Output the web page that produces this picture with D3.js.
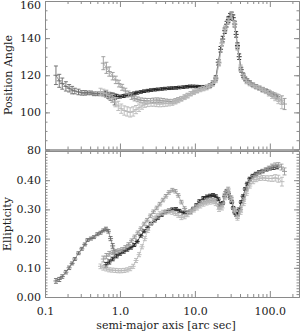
<!DOCTYPE html>
<html><head><meta charset="utf-8">
<script src="https://cdn.jsdelivr.net/npm/d3@7"></script>
<style>body{margin:0;background:#fff}svg{display:block}</style>
</head><body>
<script>
// ---- data: inner series ----
const s1Radius = [0.14,0.155,0.17,0.19,0.21,0.23,0.25,0.28,0.31,0.34,0.37,0.41,0.45,0.5,0.55,0.6,0.65,0.7,0.75,0.8,0.85];
const s1PA     = [120,117,115.5,114,113,112,111.5,111,110.5,110.5,110.5,110.5,110,110,110,110,109.5,109,108.5,108,107];
const s1PAErr  = [5,3.5,3,2.5,2,2,1.5,1.5,1.2,1.2,1,1,1,1,1,1,1.2,1.5,2,2.5,3];
const s1Ell    = [0.055,0.06,0.07,0.085,0.10,0.115,0.13,0.15,0.165,0.18,0.195,0.2,0.205,0.215,0.22,0.228,0.233,0.225,0.2,0.175,0.15];
const s1EllErr = [0.008,0.007,0.006,0.006,0.006,0.005,0.005,0.005,0.005,0.005,0.005,0.005,0.005,0.005,0.005,0.005,0.006,0.006,0.007,0.008,0.01];

// ---- data: black series ----
const s2Radius = [0.65,0.72,0.8,0.9,1.0, 1.12,1.25,1.4,1.55,1.7, 1.9,2.1,2.35,2.6,2.9, 3.2,3.6,4.0,4.5,5.0, 5.6,6.2,7.0,7.8,8.6, 9.5,10.5,11.5,13,14.5, 16,17.5,19,20.5,22, 23.5,25,26.5,28,29.5, 31,32.5,34,35.5,37, 39,41.5,44,47,50, 54,59,65,72,80, 90,100,112,125];
const s2PA     = [110,109.5,109,108.7,108.5, 108.8,109.2,109.7,110.2,110.6, 111,111.4,111.7,112,112.2, 112.4,112.6,112.8,113,113.1, 113.2,113.4,113.6,113.8,114, 114,113.9,113.8,113.8,113.8, 114.5,116,118.5,127,134, 139.5,144,147.5,150,151.8, 152.5,151,147.5,142,136, 130,123,120,118,117, 116,114.8,114,113.1,112.3, 111.4,110.4,109.4,108.5];
const s2PAErr  = [1.5,1.2,1,1,0.8, 0.8,0.8,0.8,0.8,0.8, 0.7,0.7,0.7,0.7,0.7, 0.7,0.7,0.7,0.7,0.7, 0.7,0.7,0.7,0.7,0.7, 0.7,0.7,0.7,0.7,0.8, 0.9,1,1.2,1.5,1.5, 1.5,1.5,1.5,1.5,1.5, 1.5,1.5,1.5,1.5,1.5, 1.5,1.3,1.2,1,1, 0.9,0.9,0.9,0.9,0.9, 0.9,1,1,1.2];
const s2Ell    = [0.11,0.12,0.13,0.14,0.148, 0.155,0.162,0.169,0.178,0.19, 0.21,0.225,0.238,0.25,0.262, 0.271,0.281,0.29,0.296,0.3, 0.301,0.295,0.289,0.287,0.292, 0.302,0.315,0.328,0.339,0.344, 0.347,0.349,0.345,0.335,0.318, 0.322,0.345,0.362,0.355,0.34, 0.325,0.305,0.29,0.282,0.284, 0.3,0.325,0.345,0.37,0.388, 0.405,0.415,0.422,0.428,0.432, 0.436,0.44,0.443,0.445];
const s2EllErr = [0.008,0.007,0.006,0.006,0.005, 0.005,0.005,0.005,0.005,0.005, 0.005,0.005,0.005,0.005,0.005, 0.005,0.005,0.005,0.005,0.005, 0.005,0.005,0.005,0.005,0.005, 0.005,0.005,0.005,0.005,0.005, 0.005,0.005,0.005,0.005,0.005, 0.005,0.005,0.005,0.005,0.005, 0.005,0.005,0.005,0.005,0.005, 0.005,0.005,0.005,0.005,0.005, 0.005,0.005,0.005,0.005,0.005, 0.005,0.005,0.006,0.006];

// ---- data: mid-gray series ----
const s3Radius = [0.6,0.66,0.72,0.8,0.88, 0.97,1.07,1.18,1.3,1.43, 1.57,1.73,1.9,2.1,2.3, 2.55,2.8,3.1,3.4,3.75, 4.1,4.5,5.0,5.5,6.0, 6.6,7.3,8.0,8.8,9.7, 10.7,11.8,13,14.3,15.7, 17.3,19,21,23,25.3, 27.8,30.6,33.7,37,40.7, 44.8,49,54,60,66, 73,80,88,97,107, 118,130,143,157];
const s3PA     = [126.5,124,122,119.5,117.5, 115.5,113.5,111.5,110,108.5, 107.5,107,106.5,106.3,106.2, 106.3,106.5,106.6,106.5,106.3, 106,105.8,105.8,106.2,106.8, 107.5,108.3,109.2,110.2,111, 111.8,112.5,113,113.5,114.3, 115.8,118,127,137.5,145, 149.5,152.5,148,135.5,124, 119.5,117,115.8,114.8,114, 113.2,112.5,111.8,110.8,109.8, 108.8,107.8,106.6,104.5];
const s3PAErr  = [3.5,3,2.5,2,2, 1.8,1.6,1.5,1.5,1.5, 1.3,1.3,1.3,1.3,1.3, 1.2,1.2,1.2,1.2,1.2, 1.2,1.2,1.2,1.2,1.2, 1,1,1,1,1, 1,1,1,1,1, 1.2,1.5,1.5,1.5,1.5, 1.5,1.5,1.5,1.5,1.5, 1.3,1.2,1.1,1,1, 1,1,1,1.2,1.2, 1.5,1.8,2.2,3];
const s3Ell    = [0.13,0.14,0.148,0.153,0.156, 0.159,0.163,0.17,0.18,0.193, 0.206,0.22,0.234,0.25,0.263, 0.278,0.292,0.305,0.318,0.332, 0.345,0.358,0.366,0.362,0.348, 0.325,0.303,0.29,0.293,0.302, 0.312,0.32,0.325,0.328,0.33, 0.332,0.327,0.31,0.315,0.355, 0.37,0.34,0.3,0.275,0.3, 0.335,0.37,0.395,0.41,0.418, 0.425,0.43,0.436,0.442,0.448, 0.452,0.452,0.445,0.43];
const s3EllErr = [0.01,0.009,0.008,0.007,0.007, 0.006,0.006,0.006,0.006,0.006, 0.006,0.006,0.006,0.006,0.006, 0.006,0.006,0.006,0.006,0.006, 0.006,0.006,0.006,0.006,0.006, 0.006,0.006,0.006,0.006,0.006, 0.006,0.006,0.006,0.006,0.006, 0.006,0.006,0.006,0.006,0.006, 0.006,0.006,0.006,0.006,0.006, 0.006,0.006,0.006,0.006,0.006, 0.006,0.006,0.006,0.006,0.007, 0.007,0.008,0.01,0.012];

// ---- data: light-gray series ----
const s4Radius = [0.55,0.6,0.66,0.72,0.79, 0.87,0.95,1.04,1.14,1.25, 1.37,1.5,1.64,1.8,1.97, 2.15,2.35,2.6,2.85,3.1, 3.4,3.75,4.1,4.5,5.0, 5.5,6.0,6.6,7.3,8.0, 8.8,9.7,10.7,11.8,13, 14.3,15.7,17.3,19,21, 23,25.3,27.8,30.6,33.7, 37,40.7,44.8,49,54, 60,66,73,80,88, 97,107,118,130,145];
const s4PA     = [111,110.5,110,109,107.5, 105.5,103.5,102,101,100.5, 100,100.5,101.5,102.5,103.5, 104.2,104.6,104.8,104.8,104.6, 104.5,104.6,104.8,105,105.3, 105.8,106.5,107.3,108.2,109, 110,110.8,111.6,112.3,112.8, 113.3,114,115.5,117.5,126.5, 137,144.5,149,152,147.5, 135,123.5,119,116.5,115.3, 114.3,113.5,112.8,112,111.3, 110.3,109.3,108.3,107.2,105.5];
const s4PAErr  = [2,2,2,2,2.2, 2.5,2.5,2.5,2.5,2.5, 2.5,2.5,2.2,2,1.8, 1.5,1.5,1.5,1.5,1.5, 1.5,1.5,1.5,1.5,1.5, 1.3,1.3,1.3,1.3,1.3, 1.2,1.2,1.2,1.2,1.2, 1.2,1.2,1.5,1.5,1.5, 1.5,1.5,1.5,1.5,1.5, 1.5,1.3,1.2,1.1,1, 1,1,1,1.2,1.2, 1.5,1.8,2,2.5,3.5];
const s4Ell    = [0.105,0.1,0.096,0.093,0.092, 0.091,0.09,0.09,0.091,0.093, 0.097,0.105,0.125,0.145,0.172, 0.2,0.228,0.252,0.268,0.278, 0.285,0.29,0.292,0.292,0.29, 0.286,0.28,0.272,0.275,0.282, 0.29,0.298,0.305,0.312,0.318, 0.322,0.325,0.326,0.32,0.3, 0.305,0.34,0.36,0.335,0.295, 0.27,0.29,0.32,0.355,0.38, 0.395,0.402,0.406,0.408,0.407, 0.406,0.406,0.408,0.405,0.395];
const s4EllErr = [0.008,0.008,0.007,0.007,0.007, 0.007,0.007,0.007,0.007,0.007, 0.007,0.007,0.007,0.007,0.007, 0.007,0.007,0.007,0.007,0.007, 0.007,0.007,0.007,0.007,0.007, 0.007,0.007,0.007,0.007,0.007, 0.007,0.007,0.007,0.007,0.007, 0.007,0.007,0.007,0.007,0.007, 0.007,0.007,0.007,0.007,0.007, 0.007,0.007,0.007,0.007,0.007, 0.007,0.007,0.007,0.008,0.008, 0.009,0.01,0.011,0.012,0.015];

// ---- axis ticks ----
const xMajor = [0.1, 1, 10, 100];
const xMajorLabels = ["0.1", "1.0", "10.0", "100.0"];
const xMinor = [0.2,0.3,0.4,0.5,0.6,0.7,0.8,0.9,2,3,4,5,6,7,8,9,20,30,40,50,60,70,80,90,200];
const paMajor = [80,100,120,140,160];
const paMinor = d3.range(80,161,5);
const ellMajor = [0,0.1,0.2,0.3,0.4,0.5];
const ellMajorLabels = ["0.00","0.10","0.20","0.30","0.40",""];
const ellMinor = d3.range(0,51).map(i=>i/100);

// draw order: black first, lighter series on top
const series = [
  {r:s2Radius, pa:s2PA, paE:s2PAErr, e:s2Ell, eE:s2EllErr, color:"#1c1c1c"},
  {r:s1Radius, pa:s1PA, paE:s1PAErr, e:s1Ell, eE:s1EllErr, color:"#6a6a6a"},
  {r:s3Radius, pa:s3PA, paE:s3PAErr, e:s3Ell, eE:s3EllErr, color:"#999999"},
  {r:s4Radius, pa:s4PA, paE:s4PAErr, e:s4Ell, eE:s4EllErr, color:"#b8b8b8"}
];

const W=301, H=332, xL=45, xR=299;
const svg = d3.select("body").append("svg").attr("width",W).attr("height",H);
const FONT = "'DejaVu Serif', serif";
const AX = "#8a8a8a";

const x = d3.scaleLog().domain([0.1,245]).range([xL,xR]);
const yPA = d3.scaleLinear().domain([80,160]).range([149.5,1]);
const yE = d3.scaleLinear().domain([0,0.5]).range([297,151]);

function styleAxis(g){
  g.selectAll(".domain").attr("stroke",AX).attr("stroke-width",1);
  g.selectAll(".tick line").attr("stroke",AX).attr("stroke-width",1);
  g.selectAll(".tick text").attr("fill","#222").style("font-family",FONT).style("font-size","11px");
}

function panel(y, yMaj, yMin, yLabFn, yTopPx, yBotPx, showX){
  svg.append("g").attr("transform",`translate(${xL},0)`)
    .call(d3.axisLeft(y).tickValues(yMin).tickSize(-2.5).tickSizeOuter(0).tickFormat("")).call(styleAxis);
  const la = svg.append("g").attr("transform",`translate(${xL},0)`)
    .call(d3.axisLeft(y).tickValues(yMaj).tickSize(-5).tickSizeOuter(0).tickPadding(4).tickFormat(yLabFn)).call(styleAxis);
  svg.append("g").attr("transform",`translate(${xR},0)`)
    .call(d3.axisRight(y).tickValues(yMin).tickSize(-2.5).tickSizeOuter(0).tickFormat("")).call(styleAxis);
  svg.append("g").attr("transform",`translate(${xR},0)`)
    .call(d3.axisRight(y).tickValues(yMaj).tickSize(-5).tickSizeOuter(0).tickFormat("")).call(styleAxis);
  svg.append("g").attr("transform",`translate(0,${yBotPx})`)
    .call(d3.axisBottom(x).tickValues(xMinor).tickSize(-3).tickSizeOuter(0).tickFormat("")).call(styleAxis);
  svg.append("g").attr("transform",`translate(0,${yBotPx})`)
    .call(d3.axisBottom(x).tickValues(xMajor).tickSize(-6).tickSizeOuter(0).tickPadding(10)
      .tickFormat((d,i)=> showX ? xMajorLabels[i] : "")).call(styleAxis);
  svg.append("g").attr("transform",`translate(0,${yTopPx})`)
    .call(d3.axisTop(x).tickValues(xMinor).tickSize(-3).tickSizeOuter(0).tickFormat("")).call(styleAxis);
  svg.append("g").attr("transform",`translate(0,${yTopPx})`)
    .call(d3.axisTop(x).tickValues(xMajor).tickSize(-6).tickSizeOuter(0).tickFormat("")).call(styleAxis);
  return la;
}

const paAxis = panel(yPA, paMajor, paMinor, d=>String(d), 1, 149.5, false);
// keep the top label inside the window
paAxis.selectAll(".tick text").filter(d=>d===160).attr("dy","0.72em");
panel(yE, ellMajor, ellMinor, (d,i)=>ellMajorLabels[i], 151, 297, true);

function drawSeries(y, key, errKey){
  series.forEach(s=>{
    const pts = s.r.map((r,i)=>({r:r, v:s[key][i], e:s[errKey][i]}));
    const g = svg.append("g");
    g.append("path").datum(pts)
      .attr("d", d3.line().x(d=>x(d.r)).y(d=>y(d.v)))
      .attr("fill","none").attr("stroke",s.color).attr("stroke-width",0.7);
    g.selectAll("path.pt").data(pts).join("path").attr("class","pt")
      .attr("d", d=>{
        const cx=x(d.r), cy=y(d.v), t=y(d.v+d.e), b=y(d.v-d.e);
        return `M${cx-2},${t}h4M${cx},${t}V${b}M${cx-2},${b}h4M${cx-2.5},${cy}h5`;
      })
      .attr("fill","none").attr("stroke",s.color).attr("stroke-width",0.9);
  });
}
drawSeries(yPA, "pa", "paE");
drawSeries(yE, "e", "eE");

svg.append("text").attr("transform","translate(12,75) rotate(-90)").attr("text-anchor","middle")
  .style("font-family",FONT).style("font-size","11px").attr("fill","#222").text("Position Angle");
svg.append("text").attr("transform","translate(11,224) rotate(-90)").attr("text-anchor","middle")
  .style("font-family",FONT).style("font-size","11px").attr("fill","#222").text("Ellipticity");
svg.append("text").attr("x",166).attr("y",329).attr("text-anchor","middle")
  .style("font-family",FONT).style("font-size","11px").attr("fill","#222").text("semi-major axis [arc sec]");
</script>
</body></html>
